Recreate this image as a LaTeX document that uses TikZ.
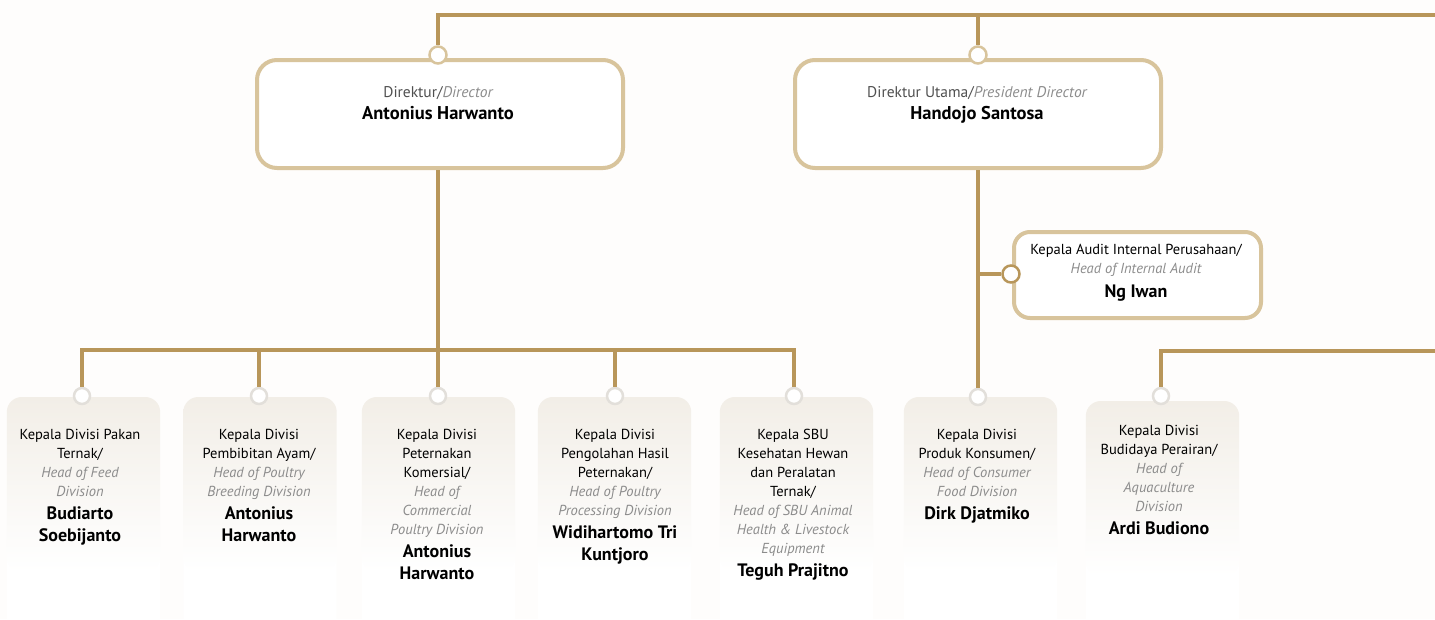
\documentclass[tikz,border=0pt]{standalone}
\usepackage{fontspec}
\setmainfont{PT Sans}
\definecolor{gold}{RGB}{184,150,90}
\definecolor{tan}{RGB}{216,196,156}
\definecolor{engray}{RGB}{140,140,140}
\definecolor{rolegray}{RGB}{80,80,80}
\definecolor{divtop}{RGB}{242,238,231}
\definecolor{ringgray}{RGB}{226,223,218}
\definecolor{bg}{RGB}{254,253,252}
\newcommand\en[1]{\textcolor{engray}{\itshape #1}}
\newcommand\nm[1]{{\fontsize{18}{19}\selectfont\bfseries #1}}
\tikzset{
  conn/.style={draw=gold, line width=4.5pt},
  topbox/.style={draw=tan, line width=4pt, fill=white, rounded corners=20pt, minimum width=366pt, minimum height=108pt, anchor=north},
  auditbox/.style={draw=tan, line width=4pt, fill=white, rounded corners=16pt, minimum width=247pt, minimum height=86pt, anchor=north west},
  divbox/.style={fill=white, rounded corners=15pt, minimum width=153pt, minimum height=240pt, anchor=north, inner sep=0pt},
  divgrad/.style={top color=divtop, bottom color=white, rounded corners=15pt},
  divtext/.style={anchor=north, align=center, inner sep=0pt, font=\fontsize{14.5}{19}\selectfont, text=black},
  toptext/.style={align=center, inner sep=0pt, font=\fontsize{15.5}{22}\selectfont},
  ring/.style={circle, draw=ringgray, fill=white, line width=2.5pt, minimum size=16pt, inner sep=0pt},
  topring/.style={circle, draw=tan, fill=white, line width=2.5pt, minimum size=17pt, inner sep=0pt},
  auditring/.style={circle, draw=gold, fill=white, line width=2.5pt, minimum size=17pt, inner sep=0pt},
}
\begin{document}
\begin{tikzpicture}[x=1pt,y=-1pt]
\useasboundingbox (0,0) rectangle (1435,619);
\fill[bg] (0,0) rectangle (1435,619);
% coordinates
\coordinate (topend) at (1440,15);
\coordinate (bus) at (438,350);
\coordinate (rightend) at (1440,351);
% top boxes
\node[topbox] (dir) at (440,58) {};
\node[topbox] (pres) at (978,58) {};
\node[toptext, anchor=north] (dirtxt) at (438,86) {\textcolor{rolegray}{Direktur/}\en{Director}\\[0pt]\fontsize{18.5}{22}\selectfont\bfseries Antonius Harwanto};
\node[toptext, anchor=north] (prestxt) at (977,86) {\textcolor{rolegray}{Direktur Utama/}\en{President Director}\\[0pt]\fontsize{18.5}{22}\selectfont\bfseries Handojo Santosa};
% audit box
\node[auditbox] (audit) at (1012,230) {};
\node[toptext, font=\fontsize{14.5}{19}\selectfont] (audittxt) at (1136,273) {Kepala Audit Internal Perusahaan/\\\en{Head of Internal Audit}\\[5pt]\fontsize{18}{19}\selectfont\bfseries Ng Iwan};
% division boxes
\node[divbox] (b1) at (83.5,397) {};
\node[divbox] (b2) at (260,397) {};
\node[divbox] (b3) at (438.5,397) {};
\node[divbox] (b4) at (614.5,397) {};
\node[divbox] (b5) at (796.5,397) {};
\node[divbox] (b6) at (980.5,397) {};
\node[divbox] (b7) at (1162.5,401) {};
\foreach \b in {b1,b2,b3,b4,b5,b6,b7}
  \shade[divgrad] ([yshift=-175pt]\b.north west) rectangle (\b.north east);
\node[divtext] (t1) at (80,429) {Kepala Divisi Pakan\\Ternak/\\\en{Head of Feed}\\\en{Division}\\[4pt]\nm{Budiarto}\\[3pt]\nm{Soebijanto}};
\node[divtext] (t2) at (259,429) {Kepala Divisi\\Pembibitan Ayam/\\\en{Head of Poultry}\\\en{Breeding Division}\\[4pt]\nm{Antonius}\\[3pt]\nm{Harwanto}};
\node[divtext] (t3) at (437,429) {Kepala Divisi\\Peternakan\\Komersial/\\\en{Head of}\\\en{Commercial}\\\en{Poultry Division}\\[4pt]\nm{Antonius}\\[3pt]\nm{Harwanto}};
\node[divtext] (t4) at (615,429) {Kepala Divisi\\Pengolahan Hasil\\Peternakan/\\\en{Head of Poultry}\\\en{Processing Division}\\[4pt]\nm{Widihartomo Tri}\\[3pt]\nm{Kuntjoro}};
\node[divtext] (t5) at (793,429) {Kepala SBU\\Kesehatan Hewan\\dan Peralatan\\Ternak/\\\en{Head of SBU Animal}\\\en{Health \& Livestock}\\\en{Equipment}\\[4pt]\nm{Teguh Prajitno}};
\node[divtext] (t6) at (977,429) {Kepala Divisi\\Produk Konsumen/\\\en{Head of Consumer}\\\en{Food Division}\\[4pt]\nm{Dirk Djatmiko}};
\node[divtext] (t7) at (1159,425) {Kepala Divisi\\Budidaya Perairan/\\\en{Head of}\\\en{Aquaculture}\\\en{Division}\\[4pt]\nm{Ardi Budiono}};
% rings
\node[topring] (cdir) at (438,55) {};
\node[topring] (cpres) at (978,55) {};
\node[auditring] (caudit) at (1011,274) {};
\node[ring] (c1) at (82,396) {};
\node[ring] (c2) at (259,396) {};
\node[ring] (c3) at (438,396) {};
\node[ring] (c4) at (615,396) {};
\node[ring] (c5) at (794,396) {};
\node[ring] (c6) at (978,397) {};
\node[ring] (c7) at (1161,396) {};
% connectors
\draw[conn] (cdir.north) |- (topend);
\draw[conn] (cpres.north) -- (cpres.north |- topend);
\draw[conn] (c3.north |- dir.south) -- (c3.north);
\draw[conn] (c1.north) |- (c5.north |- bus) -- (c5.north);
\draw[conn] (c2.north) -- (c2.north |- bus);
\draw[conn] (c4.north) -- (c4.north |- bus);
\draw[conn] (pres.south) -- (c6.north);
\draw[conn] (caudit.west) -- (caudit.west -| pres.south);
\draw[conn] (c7.north) |- (rightend);
\end{tikzpicture}
\end{document}
